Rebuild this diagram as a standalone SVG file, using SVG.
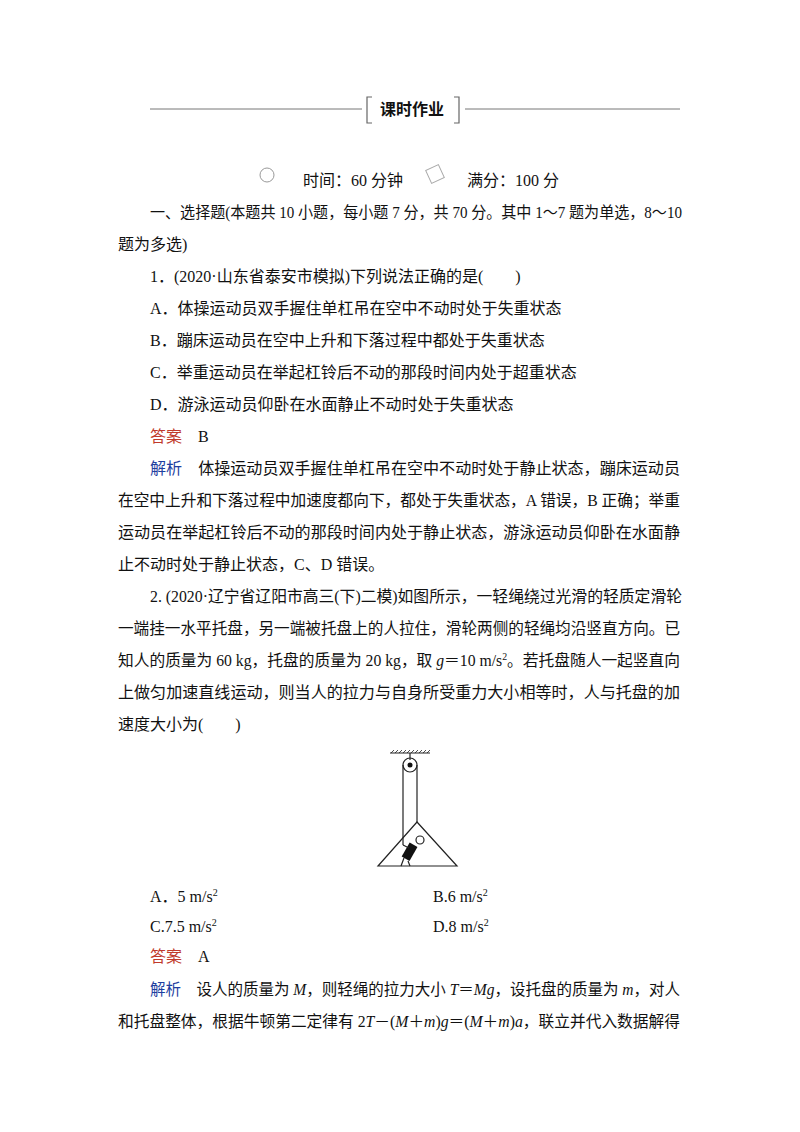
<svg xmlns="http://www.w3.org/2000/svg" width="800" height="1132" viewBox="0 0 800 1132">
<style>
text{font-family:"Liberation Serif","Noto Sans CJK SC",serif;font-size:16px;fill:#111}
.r{fill:#c0392b}
.b{fill:#1f3f9f}
.ln{stroke:#222;stroke-width:1.2;fill:none}
</style>
<rect width="800" height="1132" fill="#fff"/>
<g id="header">
<line x1="150" y1="109" x2="362" y2="109" stroke="#777" stroke-width="1"/>
<line x1="465" y1="109" x2="680" y2="109" stroke="#777" stroke-width="1"/>
<path d="M372,97 h-5 v26 h5 M454,97 h5 v26 h-5" stroke="#666" fill="none" stroke-width="1.2"/>
<text x="380" y="115" font-weight="bold" font-size="15" fill="#444">课时作业</text>
</g>
<g id="timebar">
<circle cx="267" cy="175" r="7" fill="none" stroke="#999"/>
<rect x="428" y="167" width="14" height="14" fill="none" stroke="#aaa" transform="rotate(-25 435 174)"/>
<text x="303" y="186">时间：60 分钟</text>
<text x="467" y="186">满分：100 分</text>
</g>
<g id="body">
<text x="150" y="218" textLength="532" lengthAdjust="spacingAndGlyphs">一、选择题(本题共 10 小题，每小题 7 分，共 70 分。其中 1～7 题为单选，8～10</text>
<text x="118" y="250">题为多选)</text>
<text x="150" y="282">1．(2020·山东省泰安市模拟)下列说法正确的是(　　)</text>
<text x="150" y="314">A．体操运动员双手握住单杠吊在空中不动时处于失重状态</text>
<text x="150" y="346">B．蹦床运动员在空中上升和下落过程中都处于失重状态</text>
<text x="150" y="378">C．举重运动员在举起杠铃后不动的那段时间内处于超重状态</text>
<text x="150" y="410">D．游泳运动员仰卧在水面静止不动时处于失重状态</text>
<text x="150" y="442"><tspan class="r">答案</tspan>　B</text>
<text x="150" y="474" textLength="530" lengthAdjust="spacingAndGlyphs"><tspan class="b">解析</tspan>　体操运动员双手握住单杠吊在空中不动时处于静止状态，蹦床运动员</text>
<text x="118" y="506" textLength="562" lengthAdjust="spacingAndGlyphs">在空中上升和下落过程中加速度都向下，都处于失重状态，A 错误，B 正确；举重</text>
<text x="118" y="538" textLength="562" lengthAdjust="spacingAndGlyphs">运动员在举起杠铃后不动的那段时间内处于静止状态，游泳运动员仰卧在水面静</text>
<text x="118" y="570">止不动时处于静止状态，C、D 错误。</text>
<text x="150" y="602" textLength="532" lengthAdjust="spacingAndGlyphs">2. (2020·辽宁省辽阳市高三(下)二模)如图所示，一轻绳绕过光滑的轻质定滑轮</text>
<text x="118" y="634" textLength="562" lengthAdjust="spacingAndGlyphs">一端挂一水平托盘，另一端被托盘上的人拉住，滑轮两侧的轻绳均沿竖直方向。已</text>
<text x="118" y="666" textLength="562" lengthAdjust="spacingAndGlyphs">知人的质量为 60 kg，托盘的质量为 20 kg，取 <tspan font-style="italic">g</tspan>＝10 m/s<tspan font-size="10" dy="-6">2</tspan><tspan dy="6">。若托盘随人一起竖直向</tspan></text>
<text x="118" y="698" textLength="562" lengthAdjust="spacingAndGlyphs">上做匀加速直线运动，则当人的拉力与自身所受重力大小相等时，人与托盘的加</text>
<text x="118" y="730">速度大小为(　　)</text>
<text x="150" y="902">A．5 m/s<tspan font-size="10" dy="-6">2</tspan></text>
<text x="433" y="902">B.6 m/s<tspan font-size="10" dy="-6">2</tspan></text>
<text x="150" y="932">C.7.5 m/s<tspan font-size="10" dy="-6">2</tspan></text>
<text x="433" y="932">D.8 m/s<tspan font-size="10" dy="-6">2</tspan></text>
<text x="150" y="962"><tspan class="r">答案</tspan>　A</text>
<text x="150" y="995" textLength="530" lengthAdjust="spacingAndGlyphs"><tspan class="b">解析</tspan>　设人的质量为 <tspan font-style="italic">M</tspan>，则轻绳的拉力大小 <tspan font-style="italic">T</tspan>＝<tspan font-style="italic">Mg</tspan>，设托盘的质量为 <tspan font-style="italic">m</tspan>，对人</text>
<text x="118" y="1027" textLength="562" lengthAdjust="spacingAndGlyphs">和托盘整体，根据牛顿第二定律有 2<tspan font-style="italic">T</tspan>－(<tspan font-style="italic">M</tspan>＋<tspan font-style="italic">m</tspan>)<tspan font-style="italic">g</tspan>＝(<tspan font-style="italic">M</tspan>＋<tspan font-style="italic">m</tspan>)<tspan font-style="italic">a</tspan>，联立并代入数据解得</text>
</g>
<g id="figure">
<line class="ln" x1="390" y1="753" x2="430" y2="753"/>
<path d="M391,753 l3,-3 M395,753 l3,-3 M399,753 l3,-3 M403,753 l3,-3 M407,753 l3,-3 M411,753 l3,-3 M415,753 l3,-3 M419,753 l3,-3 M423,753 l3,-3 M427,753 l3,-3" stroke="#222" stroke-width="0.8"/>
<line class="ln" x1="410" y1="753" x2="410" y2="760"/>
<circle cx="410" cy="765" r="7" class="ln"/>
<circle cx="410" cy="765" r="2.5" fill="#111"/>
<line class="ln" x1="403" y1="765" x2="403" y2="845"/>
<line class="ln" x1="417" y1="765" x2="417" y2="822"/>
<path class="ln" d="M417,822 L378,866 L457,866 Z"/>
<circle cx="420" cy="840" r="4" class="ln"/>
<rect x="405" y="844" width="9" height="16" fill="#111" transform="rotate(30 410 852)"/>
<path class="ln" d="M403,845 l6,3 M404,858 l-3,8 M408,861 l2,5"/>
</g>
</svg>
